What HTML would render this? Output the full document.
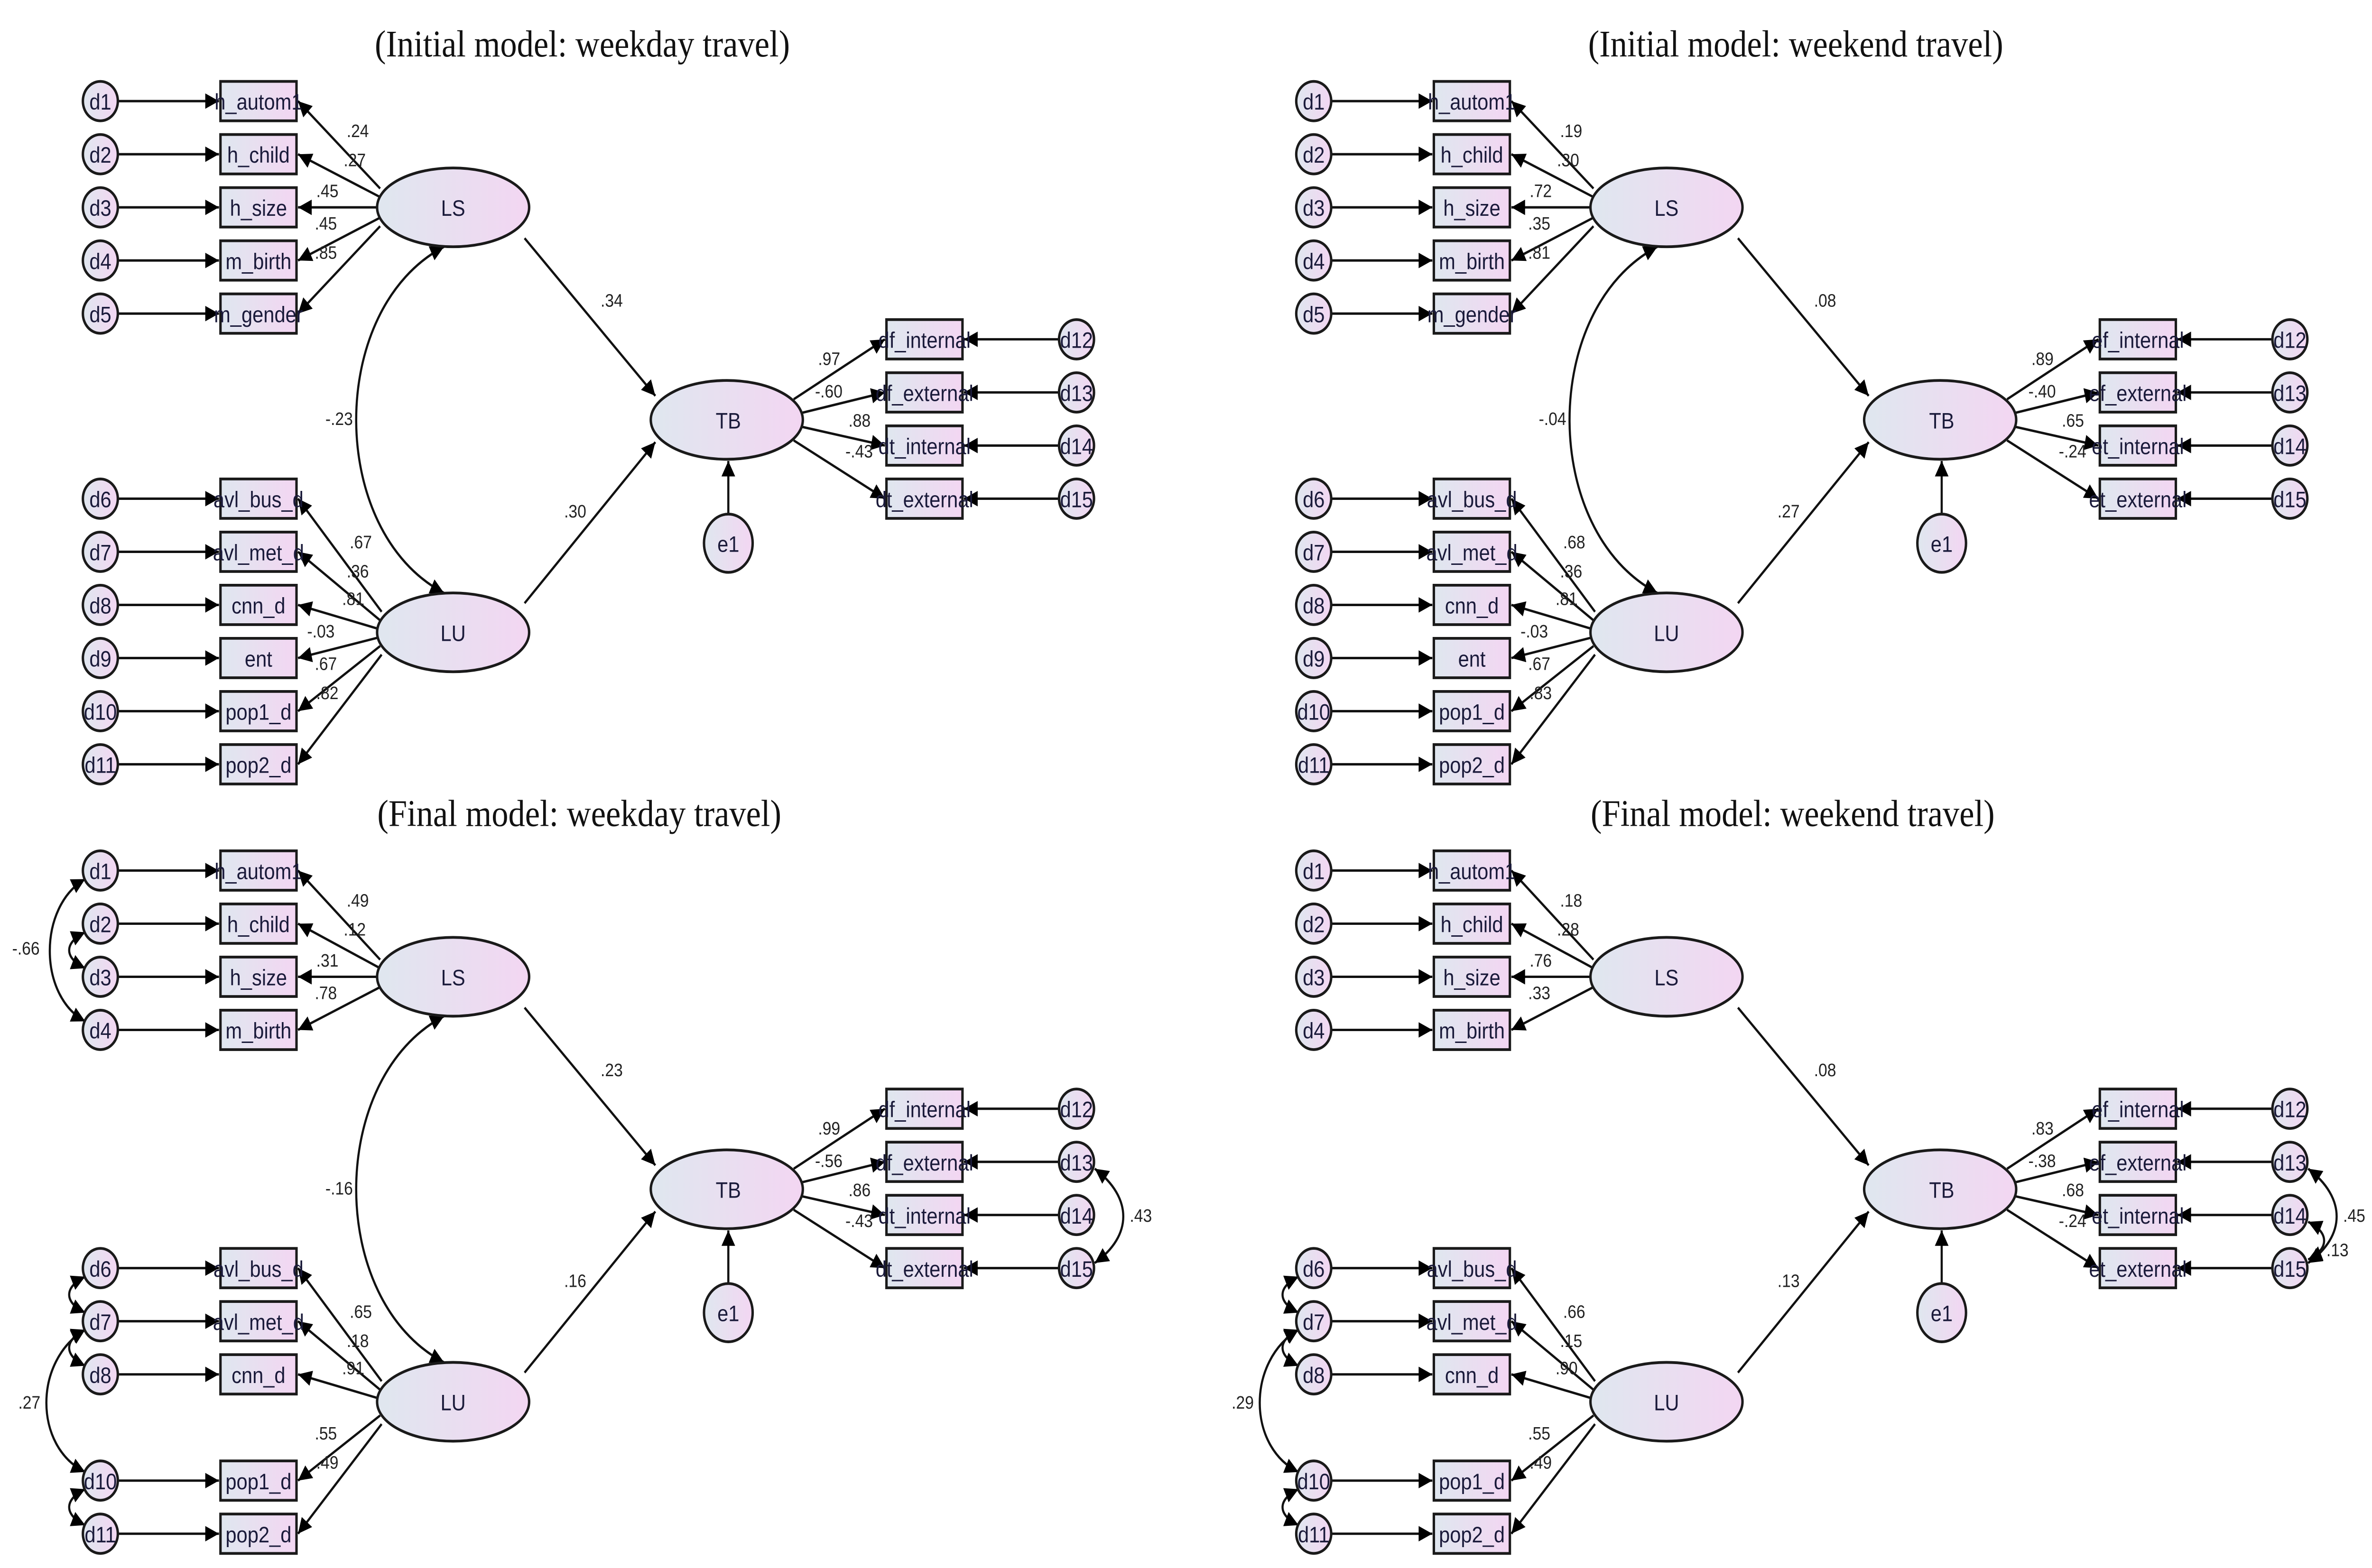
<!DOCTYPE html>
<html><head><meta charset="utf-8"><style>
html,body{margin:0;padding:0;background:#fff;overflow:hidden;width:100%;height:100%}
svg{display:block;position:absolute;left:0;top:0;width:100vw;height:100vh}
.t{font-family:"Liberation Serif",serif;font-size:22px;fill:#111}
.n{font-family:"Liberation Sans",sans-serif;font-size:13px;fill:#1a1a3a}
.l{font-family:"Liberation Sans",sans-serif;font-size:10.5px;fill:#222}
.e{stroke:#1a1a1a;stroke-width:1.6}
.ln{stroke:#111;stroke-width:1.4;fill:none}
</style></head><body>
<svg viewBox="0 0 1560 915" preserveAspectRatio="none" xmlns="http://www.w3.org/2000/svg">
<defs>
<linearGradient id="g" x1="0" y1="0" x2="1" y2="0"><stop offset="0" stop-color="#dfe7ef"/><stop offset="1" stop-color="#f3d6f2"/></linearGradient>
<marker id="a" viewBox="0 0 10 10" refX="10" refY="5" markerWidth="12" markerHeight="9" markerUnits="userSpaceOnUse" orient="auto-start-reverse"><path d="M0,0L10,5L0,10z" fill="#000"/></marker>
</defs>

<!-- ================= PANEL TL ================= -->
<g>
<text class="t" x="383" y="33" text-anchor="middle">(Initial model: weekday travel)</text>
<g class="ln" marker-end="url(#a)">
<line x1="78" y1="59" x2="144" y2="59"/><line x1="78" y1="90" x2="144" y2="90"/><line x1="78" y1="121" x2="144" y2="121"/><line x1="78" y1="152" x2="144" y2="152"/><line x1="78" y1="183" x2="144" y2="183"/>
<line x1="78" y1="291" x2="144" y2="291"/><line x1="78" y1="322" x2="144" y2="322"/><line x1="78" y1="353" x2="144" y2="353"/><line x1="78" y1="384" x2="144" y2="384"/><line x1="78" y1="415" x2="144" y2="415"/><line x1="78" y1="446" x2="144" y2="446"/>
<line x1="697" y1="198" x2="634" y2="198"/><line x1="697" y1="229" x2="634" y2="229"/><line x1="697" y1="260" x2="634" y2="260"/><line x1="697" y1="291" x2="634" y2="291"/>
<line x1="250" y1="110" x2="196" y2="59"/><line x1="250" y1="115" x2="196" y2="90"/><line x1="249" y1="121" x2="196" y2="121"/><line x1="250" y1="127" x2="196" y2="152"/><line x1="250" y1="132" x2="196" y2="183"/>
<line x1="251" y1="357" x2="196" y2="291"/><line x1="250" y1="362" x2="196" y2="322"/><line x1="249" y1="367" x2="196" y2="353"/><line x1="249" y1="372" x2="196" y2="384"/><line x1="250" y1="377" x2="196" y2="415"/><line x1="251" y1="382" x2="196" y2="446"/>
<line x1="522" y1="233" x2="582" y2="198"/><line x1="527" y1="241" x2="582" y2="229"/><line x1="527" y1="249" x2="582" y2="260"/><line x1="522" y1="257" x2="582" y2="291"/>
<line x1="345" y1="139" x2="431" y2="231"/><line x1="345" y1="352" x2="431" y2="258"/>
<line x1="479" y1="301" x2="479" y2="269"/>
</g>
<path class="ln" d="M292,346 C215,310 215,180 292,144" marker-start="url(#a)" marker-end="url(#a)"/>
<g fill="url(#g)" class="e">
<circle cx="66" cy="59" r="11.5"/><circle cx="66" cy="90" r="11.5"/><circle cx="66" cy="121" r="11.5"/><circle cx="66" cy="152" r="11.5"/><circle cx="66" cy="183" r="11.5"/>
<circle cx="66" cy="291" r="11.5"/><circle cx="66" cy="322" r="11.5"/><circle cx="66" cy="353" r="11.5"/><circle cx="66" cy="384" r="11.5"/><circle cx="66" cy="415" r="11.5"/><circle cx="66" cy="446" r="11.5"/>
<circle cx="708" cy="198" r="11.5"/><circle cx="708" cy="229" r="11.5"/><circle cx="708" cy="260" r="11.5"/><circle cx="708" cy="291" r="11.5"/>
<ellipse cx="479" cy="317" rx="16" ry="17"/>
<rect x="145" y="47.5" width="50" height="23"/><rect x="145" y="78.5" width="50" height="23"/><rect x="145" y="109.5" width="50" height="23"/><rect x="145" y="140.5" width="50" height="23"/><rect x="145" y="171.5" width="50" height="23"/>
<rect x="145" y="279.5" width="50" height="23"/><rect x="145" y="310.5" width="50" height="23"/><rect x="145" y="341.5" width="50" height="23"/><rect x="145" y="372.5" width="50" height="23"/><rect x="145" y="403.5" width="50" height="23"/><rect x="145" y="434.5" width="50" height="23"/>
<rect x="583" y="186.5" width="50" height="23"/><rect x="583" y="217.5" width="50" height="23"/><rect x="583" y="248.5" width="50" height="23"/><rect x="583" y="279.5" width="50" height="23"/>
<ellipse cx="298" cy="121" rx="50" ry="23"/><ellipse cx="298" cy="369" rx="50" ry="23"/><ellipse cx="478" cy="245" rx="50" ry="23"/>
</g>
<g class="n" text-anchor="middle">
<text x="66" y="64">d1</text><text x="66" y="95">d2</text><text x="66" y="126">d3</text><text x="66" y="157">d4</text><text x="66" y="188">d5</text>
<text x="66" y="296">d6</text><text x="66" y="327">d7</text><text x="66" y="358">d8</text><text x="66" y="389">d9</text><text x="66" y="420">d10</text><text x="66" y="451">d11</text>
<text x="708" y="203">d12</text><text x="708" y="234">d13</text><text x="708" y="265">d14</text><text x="708" y="296">d15</text>
<text x="479" y="322">e1</text>
<text x="170" y="64">h_autom1</text><text x="170" y="95">h_child</text><text x="170" y="126">h_size</text><text x="170" y="157">m_birth</text><text x="170" y="188">m_gender</text>
<text x="170" y="296">avl_bus_d</text><text x="170" y="327">avl_met_d</text><text x="170" y="358">cnn_d</text><text x="170" y="389">ent</text><text x="170" y="420">pop1_d</text><text x="170" y="451">pop2_d</text>
<text x="608" y="203">df_internal</text><text x="608" y="234">df_external</text><text x="608" y="265">dt_internal</text><text x="608" y="296">dt_external</text>
<text x="298" y="126">LS</text><text x="298" y="374">LU</text><text x="479" y="250">TB</text>
</g>
<g class="l">
<text x="228" y="80">.24</text><text x="226" y="97">.27</text><text x="208" y="115">.45</text><text x="207" y="134">.45</text><text x="207" y="151">.85</text>
<text x="230" y="320">.67</text><text x="228" y="337">.36</text><text x="225" y="353">.81</text><text x="202" y="372">-.03</text><text x="207" y="391">.67</text><text x="208" y="408">.82</text>
<text x="538" y="213">.97</text><text x="536" y="232">-.60</text><text x="558" y="249">.88</text><text x="556" y="267">-.43</text>
<text x="395" y="179">.34</text><text x="371" y="302">.30</text><text x="214" y="248">-.23</text>
</g>
</g>

<!-- ================= PANEL TR ================= -->
<g transform="translate(798,0)">
<text class="t" x="383" y="33" text-anchor="middle">(Initial model: weekend travel)</text>
<g class="ln" marker-end="url(#a)">
<line x1="78" y1="59" x2="144" y2="59"/><line x1="78" y1="90" x2="144" y2="90"/><line x1="78" y1="121" x2="144" y2="121"/><line x1="78" y1="152" x2="144" y2="152"/><line x1="78" y1="183" x2="144" y2="183"/>
<line x1="78" y1="291" x2="144" y2="291"/><line x1="78" y1="322" x2="144" y2="322"/><line x1="78" y1="353" x2="144" y2="353"/><line x1="78" y1="384" x2="144" y2="384"/><line x1="78" y1="415" x2="144" y2="415"/><line x1="78" y1="446" x2="144" y2="446"/>
<line x1="697" y1="198" x2="634" y2="198"/><line x1="697" y1="229" x2="634" y2="229"/><line x1="697" y1="260" x2="634" y2="260"/><line x1="697" y1="291" x2="634" y2="291"/>
<line x1="250" y1="110" x2="196" y2="59"/><line x1="250" y1="115" x2="196" y2="90"/><line x1="249" y1="121" x2="196" y2="121"/><line x1="250" y1="127" x2="196" y2="152"/><line x1="250" y1="132" x2="196" y2="183"/>
<line x1="251" y1="357" x2="196" y2="291"/><line x1="250" y1="362" x2="196" y2="322"/><line x1="249" y1="367" x2="196" y2="353"/><line x1="249" y1="372" x2="196" y2="384"/><line x1="250" y1="377" x2="196" y2="415"/><line x1="251" y1="382" x2="196" y2="446"/>
<line x1="522" y1="233" x2="582" y2="198"/><line x1="527" y1="241" x2="582" y2="229"/><line x1="527" y1="249" x2="582" y2="260"/><line x1="522" y1="257" x2="582" y2="291"/>
<line x1="345" y1="139" x2="431" y2="231"/><line x1="345" y1="352" x2="431" y2="258"/>
<line x1="479" y1="301" x2="479" y2="269"/>
</g>
<path class="ln" d="M292,346 C215,310 215,180 292,144" marker-start="url(#a)" marker-end="url(#a)"/>
<g fill="url(#g)" class="e">
<circle cx="66" cy="59" r="11.5"/><circle cx="66" cy="90" r="11.5"/><circle cx="66" cy="121" r="11.5"/><circle cx="66" cy="152" r="11.5"/><circle cx="66" cy="183" r="11.5"/>
<circle cx="66" cy="291" r="11.5"/><circle cx="66" cy="322" r="11.5"/><circle cx="66" cy="353" r="11.5"/><circle cx="66" cy="384" r="11.5"/><circle cx="66" cy="415" r="11.5"/><circle cx="66" cy="446" r="11.5"/>
<circle cx="708" cy="198" r="11.5"/><circle cx="708" cy="229" r="11.5"/><circle cx="708" cy="260" r="11.5"/><circle cx="708" cy="291" r="11.5"/>
<ellipse cx="479" cy="317" rx="16" ry="17"/>
<rect x="145" y="47.5" width="50" height="23"/><rect x="145" y="78.5" width="50" height="23"/><rect x="145" y="109.5" width="50" height="23"/><rect x="145" y="140.5" width="50" height="23"/><rect x="145" y="171.5" width="50" height="23"/>
<rect x="145" y="279.5" width="50" height="23"/><rect x="145" y="310.5" width="50" height="23"/><rect x="145" y="341.5" width="50" height="23"/><rect x="145" y="372.5" width="50" height="23"/><rect x="145" y="403.5" width="50" height="23"/><rect x="145" y="434.5" width="50" height="23"/>
<rect x="583" y="186.5" width="50" height="23"/><rect x="583" y="217.5" width="50" height="23"/><rect x="583" y="248.5" width="50" height="23"/><rect x="583" y="279.5" width="50" height="23"/>
<ellipse cx="298" cy="121" rx="50" ry="23"/><ellipse cx="298" cy="369" rx="50" ry="23"/><ellipse cx="478" cy="245" rx="50" ry="23"/>
</g>
<g class="n" text-anchor="middle">
<text x="66" y="64">d1</text><text x="66" y="95">d2</text><text x="66" y="126">d3</text><text x="66" y="157">d4</text><text x="66" y="188">d5</text>
<text x="66" y="296">d6</text><text x="66" y="327">d7</text><text x="66" y="358">d8</text><text x="66" y="389">d9</text><text x="66" y="420">d10</text><text x="66" y="451">d11</text>
<text x="708" y="203">d12</text><text x="708" y="234">d13</text><text x="708" y="265">d14</text><text x="708" y="296">d15</text>
<text x="479" y="322">e1</text>
<text x="170" y="64">h_autom1</text><text x="170" y="95">h_child</text><text x="170" y="126">h_size</text><text x="170" y="157">m_birth</text><text x="170" y="188">m_gender</text>
<text x="170" y="296">avl_bus_d</text><text x="170" y="327">avl_met_d</text><text x="170" y="358">cnn_d</text><text x="170" y="389">ent</text><text x="170" y="420">pop1_d</text><text x="170" y="451">pop2_d</text>
<text x="608" y="203">ef_internal</text><text x="608" y="234">ef_external</text><text x="608" y="265">et_internal</text><text x="608" y="296">et_external</text>
<text x="298" y="126">LS</text><text x="298" y="374">LU</text><text x="479" y="250">TB</text>
</g>
<g class="l">
<text x="228" y="80">.19</text><text x="226" y="97">.30</text><text x="208" y="115">.72</text><text x="207" y="134">.35</text><text x="207" y="151">.81</text>
<text x="230" y="320">.68</text><text x="228" y="337">.36</text><text x="225" y="353">.81</text><text x="202" y="372">-.03</text><text x="207" y="391">.67</text><text x="208" y="408">.83</text>
<text x="538" y="213">.89</text><text x="536" y="232">-.40</text><text x="558" y="249">.65</text><text x="556" y="267">-.24</text>
<text x="395" y="179">.08</text><text x="371" y="302">.27</text><text x="214" y="248">-.04</text>
</g>
</g>

<!-- ================= PANEL BL ================= -->
<g transform="translate(0,449)">
<text class="t" x="381" y="33" text-anchor="middle">(Final model: weekday travel)</text>
<g class="ln" marker-end="url(#a)">
<line x1="78" y1="59" x2="144" y2="59"/><line x1="78" y1="90" x2="144" y2="90"/><line x1="78" y1="121" x2="144" y2="121"/><line x1="78" y1="152" x2="144" y2="152"/>
<line x1="78" y1="291" x2="144" y2="291"/><line x1="78" y1="322" x2="144" y2="322"/><line x1="78" y1="353" x2="144" y2="353"/><line x1="78" y1="415" x2="144" y2="415"/><line x1="78" y1="446" x2="144" y2="446"/>
<line x1="697" y1="198" x2="634" y2="198"/><line x1="697" y1="229" x2="634" y2="229"/><line x1="697" y1="260" x2="634" y2="260"/><line x1="697" y1="291" x2="634" y2="291"/>
<line x1="250" y1="111" x2="196" y2="59"/><line x1="250" y1="116" x2="196" y2="90"/><line x1="249" y1="121" x2="196" y2="121"/><line x1="250" y1="127" x2="196" y2="152"/>
<line x1="251" y1="357" x2="196" y2="291"/><line x1="250" y1="362" x2="196" y2="322"/><line x1="249" y1="367" x2="196" y2="353"/><line x1="250" y1="377" x2="196" y2="415"/><line x1="251" y1="382" x2="196" y2="446"/>
<line x1="522" y1="233" x2="582" y2="198"/><line x1="527" y1="241" x2="582" y2="229"/><line x1="527" y1="249" x2="582" y2="260"/><line x1="522" y1="257" x2="582" y2="291"/>
<line x1="345" y1="139" x2="431" y2="231"/><line x1="345" y1="352" x2="431" y2="258"/>
<line x1="479" y1="301" x2="479" y2="269"/>
</g>
<g class="ln" marker-start="url(#a)" marker-end="url(#a)">
<path d="M292,346 C215,310 215,180 292,144"/>
<path d="M56,64 C25,80 25,132 56,147"/>
<path d="M56,95 C42,101 42,110 56,116"/>
<path d="M56,296 C42,302 42,311 56,317"/>
<path d="M56,327 C42,333 42,342 56,348"/>
<path d="M56,327 C22,345 22,395 56,410"/>
<path d="M56,420 C42,426 42,435 56,441"/>
<path d="M720,233 C745,250 745,272 720,288"/>
</g>
<g fill="url(#g)" class="e">
<circle cx="66" cy="59" r="11.5"/><circle cx="66" cy="90" r="11.5"/><circle cx="66" cy="121" r="11.5"/><circle cx="66" cy="152" r="11.5"/>
<circle cx="66" cy="291" r="11.5"/><circle cx="66" cy="322" r="11.5"/><circle cx="66" cy="353" r="11.5"/><circle cx="66" cy="415" r="11.5"/><circle cx="66" cy="446" r="11.5"/>
<circle cx="708" cy="198" r="11.5"/><circle cx="708" cy="229" r="11.5"/><circle cx="708" cy="260" r="11.5"/><circle cx="708" cy="291" r="11.5"/>
<ellipse cx="479" cy="317" rx="16" ry="17"/>
<rect x="145" y="47.5" width="50" height="23"/><rect x="145" y="78.5" width="50" height="23"/><rect x="145" y="109.5" width="50" height="23"/><rect x="145" y="140.5" width="50" height="23"/>
<rect x="145" y="279.5" width="50" height="23"/><rect x="145" y="310.5" width="50" height="23"/><rect x="145" y="341.5" width="50" height="23"/><rect x="145" y="403.5" width="50" height="23"/><rect x="145" y="434.5" width="50" height="23"/>
<rect x="583" y="186.5" width="50" height="23"/><rect x="583" y="217.5" width="50" height="23"/><rect x="583" y="248.5" width="50" height="23"/><rect x="583" y="279.5" width="50" height="23"/>
<ellipse cx="298" cy="121" rx="50" ry="23"/><ellipse cx="298" cy="369" rx="50" ry="23"/><ellipse cx="478" cy="245" rx="50" ry="23"/>
</g>
<g class="n" text-anchor="middle">
<text x="66" y="64">d1</text><text x="66" y="95">d2</text><text x="66" y="126">d3</text><text x="66" y="157">d4</text>
<text x="66" y="296">d6</text><text x="66" y="327">d7</text><text x="66" y="358">d8</text><text x="66" y="420">d10</text><text x="66" y="451">d11</text>
<text x="708" y="203">d12</text><text x="708" y="234">d13</text><text x="708" y="265">d14</text><text x="708" y="296">d15</text>
<text x="479" y="322">e1</text>
<text x="170" y="64">h_autom1</text><text x="170" y="95">h_child</text><text x="170" y="126">h_size</text><text x="170" y="157">m_birth</text>
<text x="170" y="296">avl_bus_d</text><text x="170" y="327">avl_met_d</text><text x="170" y="358">cnn_d</text><text x="170" y="420">pop1_d</text><text x="170" y="451">pop2_d</text>
<text x="608" y="203">df_internal</text><text x="608" y="234">df_external</text><text x="608" y="265">dt_internal</text><text x="608" y="296">dt_external</text>
<text x="298" y="126">LS</text><text x="298" y="374">LU</text><text x="479" y="250">TB</text>
</g>
<g class="l">
<text x="228" y="80">.49</text><text x="226" y="97">.12</text><text x="208" y="115">.31</text><text x="207" y="134">.78</text>
<text x="230" y="320">.65</text><text x="228" y="337">.18</text><text x="225" y="353">.91</text><text x="207" y="391">.55</text><text x="208" y="408">.49</text>
<text x="538" y="213">.99</text><text x="536" y="232">-.56</text><text x="558" y="249">.86</text><text x="556" y="267">-.43</text>
<text x="395" y="179">.23</text><text x="371" y="302">.16</text><text x="214" y="248">-.16</text>
<text x="8" y="108">-.66</text><text x="12" y="373">.27</text><text x="743" y="264">.43</text>
</g>
</g>

<!-- ================= PANEL BR ================= -->
<g transform="translate(798,449)">
<text class="t" x="381" y="33" text-anchor="middle">(Final model: weekend travel)</text>
<g class="ln" marker-end="url(#a)">
<line x1="78" y1="59" x2="144" y2="59"/><line x1="78" y1="90" x2="144" y2="90"/><line x1="78" y1="121" x2="144" y2="121"/><line x1="78" y1="152" x2="144" y2="152"/>
<line x1="78" y1="291" x2="144" y2="291"/><line x1="78" y1="322" x2="144" y2="322"/><line x1="78" y1="353" x2="144" y2="353"/><line x1="78" y1="415" x2="144" y2="415"/><line x1="78" y1="446" x2="144" y2="446"/>
<line x1="697" y1="198" x2="634" y2="198"/><line x1="697" y1="229" x2="634" y2="229"/><line x1="697" y1="260" x2="634" y2="260"/><line x1="697" y1="291" x2="634" y2="291"/>
<line x1="250" y1="111" x2="196" y2="59"/><line x1="250" y1="116" x2="196" y2="90"/><line x1="249" y1="121" x2="196" y2="121"/><line x1="250" y1="127" x2="196" y2="152"/>
<line x1="251" y1="357" x2="196" y2="291"/><line x1="250" y1="362" x2="196" y2="322"/><line x1="249" y1="367" x2="196" y2="353"/><line x1="250" y1="377" x2="196" y2="415"/><line x1="251" y1="382" x2="196" y2="446"/>
<line x1="522" y1="233" x2="582" y2="198"/><line x1="527" y1="241" x2="582" y2="229"/><line x1="527" y1="249" x2="582" y2="260"/><line x1="522" y1="257" x2="582" y2="291"/>
<line x1="345" y1="139" x2="431" y2="231"/><line x1="345" y1="352" x2="431" y2="258"/>
<line x1="479" y1="301" x2="479" y2="269"/>
</g>
<g class="ln" marker-start="url(#a)" marker-end="url(#a)">
<path d="M56,296 C42,302 42,311 56,317"/>
<path d="M56,327 C42,333 42,342 56,348"/>
<path d="M56,327 C22,345 22,395 56,410"/>
<path d="M56,420 C42,426 42,435 56,441"/>
<path d="M720,233 C745,250 745,272 720,288"/>
<path d="M720,264 C734,270 734,280 720,286"/>
</g>
<g fill="url(#g)" class="e">
<circle cx="66" cy="59" r="11.5"/><circle cx="66" cy="90" r="11.5"/><circle cx="66" cy="121" r="11.5"/><circle cx="66" cy="152" r="11.5"/>
<circle cx="66" cy="291" r="11.5"/><circle cx="66" cy="322" r="11.5"/><circle cx="66" cy="353" r="11.5"/><circle cx="66" cy="415" r="11.5"/><circle cx="66" cy="446" r="11.5"/>
<circle cx="708" cy="198" r="11.5"/><circle cx="708" cy="229" r="11.5"/><circle cx="708" cy="260" r="11.5"/><circle cx="708" cy="291" r="11.5"/>
<ellipse cx="479" cy="317" rx="16" ry="17"/>
<rect x="145" y="47.5" width="50" height="23"/><rect x="145" y="78.5" width="50" height="23"/><rect x="145" y="109.5" width="50" height="23"/><rect x="145" y="140.5" width="50" height="23"/>
<rect x="145" y="279.5" width="50" height="23"/><rect x="145" y="310.5" width="50" height="23"/><rect x="145" y="341.5" width="50" height="23"/><rect x="145" y="403.5" width="50" height="23"/><rect x="145" y="434.5" width="50" height="23"/>
<rect x="583" y="186.5" width="50" height="23"/><rect x="583" y="217.5" width="50" height="23"/><rect x="583" y="248.5" width="50" height="23"/><rect x="583" y="279.5" width="50" height="23"/>
<ellipse cx="298" cy="121" rx="50" ry="23"/><ellipse cx="298" cy="369" rx="50" ry="23"/><ellipse cx="478" cy="245" rx="50" ry="23"/>
</g>
<g class="n" text-anchor="middle">
<text x="66" y="64">d1</text><text x="66" y="95">d2</text><text x="66" y="126">d3</text><text x="66" y="157">d4</text>
<text x="66" y="296">d6</text><text x="66" y="327">d7</text><text x="66" y="358">d8</text><text x="66" y="420">d10</text><text x="66" y="451">d11</text>
<text x="708" y="203">d12</text><text x="708" y="234">d13</text><text x="708" y="265">d14</text><text x="708" y="296">d15</text>
<text x="479" y="322">e1</text>
<text x="170" y="64">h_autom1</text><text x="170" y="95">h_child</text><text x="170" y="126">h_size</text><text x="170" y="157">m_birth</text>
<text x="170" y="296">avl_bus_d</text><text x="170" y="327">avl_met_d</text><text x="170" y="358">cnn_d</text><text x="170" y="420">pop1_d</text><text x="170" y="451">pop2_d</text>
<text x="608" y="203">ef_internal</text><text x="608" y="234">ef_external</text><text x="608" y="265">et_internal</text><text x="608" y="296">et_external</text>
<text x="298" y="126">LS</text><text x="298" y="374">LU</text><text x="479" y="250">TB</text>
</g>
<g class="l">
<text x="228" y="80">.18</text><text x="226" y="97">.28</text><text x="208" y="115">.76</text><text x="207" y="134">.33</text>
<text x="230" y="320">.66</text><text x="228" y="337">.15</text><text x="225" y="353">.90</text><text x="207" y="391">.55</text><text x="208" y="408">.49</text>
<text x="538" y="213">.83</text><text x="536" y="232">-.38</text><text x="558" y="249">.68</text><text x="556" y="267">-.24</text>
<text x="395" y="179">.08</text><text x="371" y="302">.13</text>
<text x="12" y="373">.29</text><text x="743" y="264">.45</text><text x="732" y="284">.13</text>
</g>
</g>
</svg>
</body></html>
